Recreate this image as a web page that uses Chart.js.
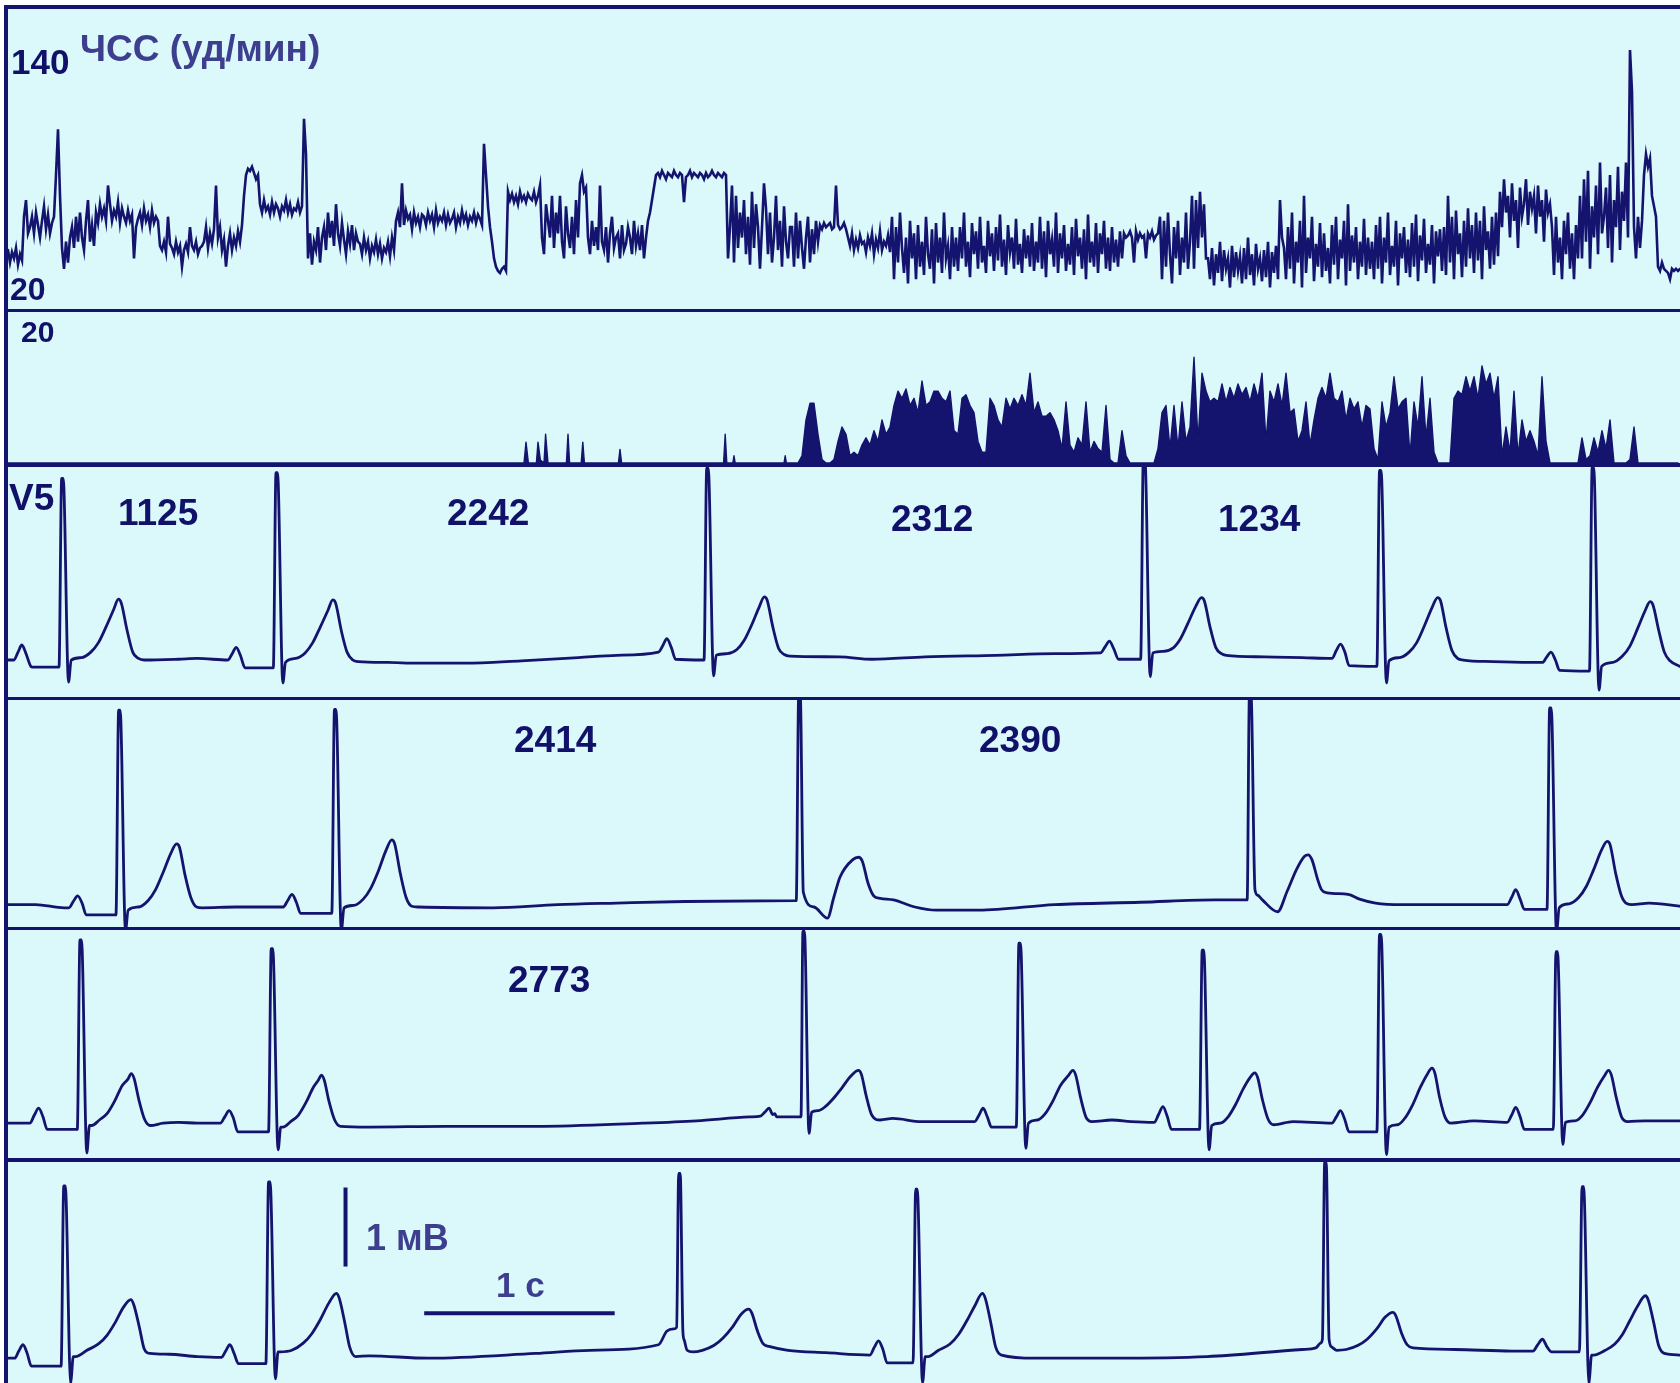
<!DOCTYPE html>
<html><head><meta charset="utf-8">
<script src="https://cdn.jsdelivr.net/npm/chart.js@4.4.1/dist/chart.umd.min.js"></script>
<style>
html,body{margin:0;padding:0;background:#fff;}
#stage{position:relative;width:1680px;height:1383px;overflow:hidden;background:#fff;}
#bg{position:absolute;left:7px;top:8px;width:1673px;height:1375px;background:#dbf8fa;}
.cv{position:absolute;}
.ln{position:absolute;background:#14146e;z-index:5;}
.lbl{position:absolute;font-family:"Liberation Sans",Arial,Helvetica,sans-serif;font-weight:bold;line-height:1;white-space:nowrap;z-index:6;}
</style></head>
<body><div id="stage"><div id="bg"></div></div>
<script>
// ---------- DATA ----------
// Heart-rate trend (bpm), one sample every step
const hrValues = [44,38,43,40,45,37,42,39, 60,68,52, 55,60,52,62,56,50,58,65,54,61,52,57,60, 80,102,70, 45,35,48,38,50,
 55,45,60,48,62,50,44,58,68,48,56,46, 62,57,66,60,64,58,75,66,58,63,60,67,57,64,
 60,57,63,58,61,40,55,59,62,56,64,58,61,55,63,57,60,58,
 46,44,48,43,60,47,45,42,48,43,46,36,44,47,43,55,46,44,48,42,45,46,
 48,55,45,52,47,54,75,50,55,44,49,36,46,52,44,50,46,53,48,56, 70,80,83,82,84,81,78,80,
 66,62,68,63,65,61,67,62,66,64,60,65,63,68,62,66,61,64,63,67,62,65, 107,90, 40,52,37,48,44,55,38,50,
 55,44,62,50,58,46,66,52,46,57,49,42,53,47,56,44,52,48, 47,42,50,44,48,40,46,43,49,42,47,40,45,43,48,41,50,44,
 58,62,55,76,56,63,59,61,54,62,57,60,55,61,
 60,56,62,58,61,55,63,57,60,58,62,56,61,57,59,62,55,60,57,63,58,61,56,60,58,62,57,61,59,56,
 95,80, 65,55, 48,40,36,34,33,35,36,34, 72,68,71,67,70,66,72,68,70,67,71,69,68,72,67,70,
 75,50,42,66,58,50,70,45,62,52, 70,48,40,65,52,45,60,42,68,50, 76,80,72,74,
 50,42,58,46,55,44,75,48,44,55,38,52,60,45,50,52,40,56,44,47,55,50,42,58,46,52,44,56,40,50, 58,62,68,74,
 80,81,79,82,80,78,81,80,79,82,80,79,81,80,67,79,80,82,79,81,80,79,81,80,78,81,79,80,82,80,79,81,80,79,81,80,
 40,55, 75,38,70,45,62,50,68,42,
 60,37,72,45,66,55,35,55,76,64,42,62,38,50,70,44,58,36,65,48,40,55,
 55,36,62,40,58,45,35,50,60,38,54,42,58,48, 56,54,57,55,56,57,54,55,75,56,54,55,57,54,
 50,46,52,44,49,45,51,47,48,43,50,46,52,42,49,45,53,44,48,46,51,43,
 60,30,55,38,62,45,33,50,28,58,40,52,30,56,36,48,32,60,42,35,54,28,57,38,50,33,62,40,46,30,55,36,
 50,34,55,40,62,36,48,31,57,42,53,35,60,38,46,33,58,41,52,34,
 55,39,61,36,49,32,56,43,50,35,59,37,47,33,54,40,51,36,57,34,
 48,38,60,35,53,31,58,42,49,36,62,33,52,40,56,34,47,37,55,32,
 59,41,50,35,54,30,61,38,48,36,57,33,52,42,58,35,50,34,55,38, 49,36,53,40,
 52,50,51,53,50,38,53,49,52,50,51,40,52,50,53,49,51,52, 60,30,58,36,62,42,28,55,40,58,32,50,38,62,35,48,
 70,35,68,45,72,50,66,40,
 40,30,45,27,42,33,48,29,44,35,40,26,46,31,43,34,41,28,45,30,50,32,42,27,47,35,40,29,44,31,48,26,43,33,46,30, 68,50,
 45,30,55,35,62,28,48,38,58,26,70,33,50,40,60,29,47,36,57,31,52,34,
 45,28,56,37,60,30,49,40,58,27,66,34,51,38,55,30,48,36,59,32,50,35,
 48,30,56,35,60,28,50,38,62,32,46,36,58,27,52,40,55,33,49,31,57,36,61,29,51,39,59,33,47,37,56,28,53,41,54,34,
 55,32,70,38,60,30,63,42,52,31,58,36,64,40,56,33,62,39,58,30,65,44,53,35,60,37,62,41,
 72,55,78,62,70,50,76,58,68,45,74,60,66,78,56,72,64,70,52,75,60,68,48,73,62,66,
 55,32,60,38,50,30,58,42,62,35,52,30,56,40,
 70,40,78,48,82,35,65,50,75,42,86,52,60,74,45,80,38,68,55,84,44,72,58,86,50,
 140,120, 55,40,60,45,58, 80,90,84,88, 70,65,60, 36,34,38, 35,34,33,30,35,34,35,34,35];

// Histogram: isolated early spikes [sample, value] and a dense run starting at histDenseStart
const histSparse = [0,0, 129.5,0, 130,2.9, 130.6,0, 132.6,0, 133,2.9, 133.6,0.4, 134.5,0, 134.9,4, 135.5,0,
 140.1,0, 140.5,4, 140.9,0, 143.8,0, 144.2,2.9, 144.6,0, 153.1,0, 153.5,1.9, 153.9,0,
 179.4,0, 179.8,4, 180.2,0, 181.7,0, 182,1, 182.3,0, 194.5,0, 194.8,1, 195.1,0];
const histDenseStart = 196;
const histDense = [0,0,0,1,6,8.3,8.3,4,0.5,0, 0,0.5,3,5,4,1,1.5,1,2.5,3.5, 2.5,4.5,3,6,4,5,8,10,9,10.3,
 8,9,7,11.4,8,8.5,10,10,9,8.5, 10,4.5,4,9,9.5,8,7,3,1.5,1.5, 9,8,6,5,9,7.5,9,8,9.5,8,
 12.5,7,8.5,6.5,6.5,7,6,4.5,2,8.5, 2.5,1.5,3.5,2.5,8.5,1.5,3,2,1.5,8, 0.5,0,0,4.5,1,0,0,0,0,0,
 0,0,2,7,8,2,8,2,8.5,3, 5,14.7,3,12.5,10,8.5,9,8.5,11,8.5, 10.5,9,11,9.5,10.5,8.5,11,9,12.5,3,
 10,8.5,11,8,12.5,7,7.5,3,4.5,8.5, 2.5,6,9,10.5,9,12.5,9,8.5,10,6, 9,7.5,8.5,5,8,7.5,2,0.5,8.5,5,
 7,12,7.5,8.5,9,1,8.5,5,12,3.5, 9,1.5,0,0,0,0,9,10,9.5,12, 10,12,9,13.5,11,12.5,9,12,1,5,
 1.5,10,1,6,3,4.5,3,1,12,3, 0,0,0,0,0,0,0,0,3.5,0.5, 1,3.5,1.5,4.5,2,6,0,0,0,0,
 0.5,5,0,0,0,0,0,0,0,0, 0,0,0];

// ECG strips, lead V5: [time s, amplitude mV] pairs
const ecgStripA = [0,0, 0.036,0, 0.058,0.1, 0.078,0.19, 0.1,0.08, 0.125,-0.08, 0.134,-0.09, 0.27,-0.09,
 0.273,-0.09, 0.287,2.3, 0.295,2.3, 0.323,-0.28, 0.337,0,
 0.39,0.03, 0.44,0.1, 0.48,0.22, 0.52,0.42, 0.56,0.64, 0.585,0.77, 0.6,0.72, 0.63,0.38, 0.66,0.1, 0.69,0.02, 0.72,0,
 0.9,0.01, 1.0,0.02, 1.16,0,
 1.182,0.08, 1.203,0.16, 1.225,0.06, 1.25,-0.1, 1.395,-0.1,
 1.398,-0.1, 1.412,2.37, 1.42,2.37, 1.448,-0.29, 1.462,-0.03,
 1.515,0.02, 1.565,0.09, 1.605,0.22, 1.645,0.42, 1.685,0.63, 1.71,0.76, 1.725,0.72, 1.755,0.37, 1.785,0.1, 1.815,0, 1.845,-0.02,
 2.0,-0.03, 2.16,-0.04, 2.4,-0.04, 2.7,-0.01, 3.0,0.03, 3.2,0.06, 3.42,0.1,
 3.442,0.18, 3.464,0.27, 3.487,0.16, 3.51,0.01, 3.655,0,
 3.659,0, 3.673,2.43, 3.681,2.43, 3.709,-0.2, 3.723,0.06,
 3.78,0.08, 3.83,0.13, 3.87,0.25, 3.91,0.45, 3.95,0.68, 3.975,0.8, 3.99,0.76, 4.02,0.42, 4.05,0.15, 4.08,0.07, 4.11,0.05,
 4.37,0.04, 4.54,0.01, 4.82,0.04, 5.19,0.06, 5.5,0.08, 5.74,0.09,
 5.765,0.17, 5.787,0.24, 5.81,0.14, 5.835,0.01, 5.948,0.01,
 5.951,0.01, 5.965,2.55, 5.973,2.55, 6.001,-0.21, 6.015,0.09,
 6.07,0.11, 6.12,0.15, 6.16,0.27, 6.2,0.47, 6.24,0.68, 6.27,0.79, 6.285,0.75, 6.315,0.42, 6.345,0.16, 6.375,0.08, 6.4,0.06, 6.6,0.04, 6.8,0.03, 6.955,0.02,
 6.978,0.12, 7.0,0.2, 7.023,0.1, 7.045,-0.07, 7.188,-0.08,
 7.191,-0.08, 7.205,2.4, 7.213,2.4, 7.241,-0.29, 7.255,-0.01,
 7.31,0.03, 7.36,0.1, 7.4,0.22, 7.44,0.43, 7.48,0.66, 7.51,0.79, 7.525,0.75, 7.555,0.4, 7.585,0.12, 7.615,0.02, 7.645,0, 7.8,-0.02, 8.0,-0.03, 8.06,-0.03,
 8.083,0.04, 8.105,0.1, 8.128,0, 8.15,-0.13, 8.303,-0.14,
 8.307,-0.14, 8.321,2.44, 8.329,2.44, 8.357,-0.38, 8.371,-0.08,
 8.43,-0.03, 8.48,0.05, 8.52,0.18, 8.56,0.4, 8.6,0.63, 8.625,0.74, 8.64,0.7, 8.67,0.38, 8.7,0.1, 8.73,-0.01, 8.78,-0.08];

const ecgStripB = [0,0.03, 0.15,0.03, 0.3,-0.01, 0.325,-0.01,
 0.348,0.07, 0.371,0.14, 0.394,0.05, 0.416,-0.1, 0.568,-0.1,
 0.572,-0.1, 0.586,2.49, 0.594,2.49, 0.622,-0.3, 0.636,-0.04,
 0.69,0, 0.74,0.08, 0.78,0.22, 0.82,0.44, 0.86,0.68, 0.89,0.8, 0.905,0.76, 0.935,0.4, 0.965,0.12, 0.995,0, 1.025,-0.01, 1.2,0, 1.45,0,
 1.473,0.08, 1.496,0.16, 1.519,0.06, 1.541,-0.08, 1.701,-0.08,
 1.705,-0.08, 1.719,2.5, 1.727,2.5, 1.755,-0.3, 1.769,-0.01,
 1.82,0.02, 1.87,0.1, 1.91,0.24, 1.95,0.46, 1.99,0.72, 2.02,0.85, 2.035,0.8, 2.065,0.42, 2.095,0.12, 2.125,0.01, 2.16,0,
 2.55,-0.01, 2.89,0.03, 3.2,0.05, 3.56,0.07, 4.14,0.08,
 4.143,0.08, 4.156,2.7, 4.164,2.7, 4.18,0.19, 4.236,0, 4.307,-0.14,
 4.34,0.12, 4.373,0.38, 4.44,0.6, 4.47,0.63, 4.49,0.58, 4.52,0.3, 4.55,0.14, 4.584,0.11, 4.654,0.09, 4.766,0, 4.879,-0.04, 5.1,-0.04, 5.5,0.03, 5.95,0.06, 6.34,0.09, 6.508,0.09,
 6.51,0.09, 6.522,2.7, 6.53,2.7, 6.551,0.22, 6.565,0.15, 6.59,0.09, 6.67,-0.06,
 6.72,0.2, 6.77,0.48, 6.81,0.64, 6.83,0.66, 6.85,0.6, 6.88,0.35, 6.9,0.22, 6.93,0.18, 7.04,0.16, 7.1,0.1, 7.184,0.05, 7.32,0.03, 7.875,0.03,
 7.898,0.12, 7.92,0.22, 7.943,0.1, 7.965,-0.03, 8.08,-0.03,
 8.084,-0.03, 8.098,2.52, 8.106,2.52, 8.134,-0.32, 8.148,-0.01,
 8.2,0.04, 8.25,0.12, 8.29,0.26, 8.33,0.48, 8.37,0.72, 8.4,0.83, 8.415,0.79, 8.445,0.42, 8.475,0.14, 8.505,0.04, 8.53,0.03, 8.62,0.05, 8.78,0.01];

const ecgStripC = [0,0, 0.12,0,
 0.143,0.1, 0.166,0.19, 0.189,0.08, 0.211,-0.08, 0.365,-0.08,
 0.369,-0.08, 0.383,2.33, 0.391,2.33, 0.419,-0.38, 0.433,-0.03,
 0.445,-0.03, 0.485,0.04, 0.525,0.12, 0.565,0.28, 0.605,0.48, 0.635,0.56, 0.652,0.63, 0.667,0.57, 0.692,0.3, 0.722,0.05, 0.752,-0.03, 0.82,0, 0.9,0.01, 1.0,0, 1.12,0,
 1.143,0.08, 1.166,0.16, 1.189,0.06, 1.211,-0.11, 1.369,-0.11,
 1.373,-0.11, 1.387,2.22, 1.395,2.22, 1.423,-0.34, 1.437,-0.05,
 1.449,-0.05, 1.489,0.02, 1.529,0.1, 1.569,0.26, 1.609,0.46, 1.635,0.55, 1.65,0.61, 1.665,0.55, 1.69,0.28, 1.72,0.04, 1.75,-0.04, 1.9,-0.05, 2.3,-0.04, 2.775,-0.04, 3.337,0, 3.62,0.03, 3.9,0.08, 3.955,0.09,
 3.978,0.14, 4.0,0.19, 4.02,0.11, 4.03,0.12, 4.04,0.08, 4.08,0.08, 4.165,0.08,
 4.168,0.08, 4.178,2.44, 4.186,2.44, 4.21,-0.13, 4.224,0.14,
 4.26,0.16, 4.3,0.22, 4.34,0.32, 4.38,0.44, 4.43,0.6, 4.47,0.67, 4.485,0.62, 4.51,0.35, 4.54,0.1, 4.584,0.04, 4.65,0.06, 4.8,0.02, 5.08,0.02,
 5.102,0.1, 5.124,0.19, 5.146,0.08, 5.168,-0.05, 5.294,-0.05,
 5.298,-0.05, 5.312,2.29, 5.32,2.29, 5.348,-0.32, 5.362,0,
 5.41,0.04, 5.45,0.12, 5.49,0.28, 5.53,0.48, 5.57,0.6, 5.595,0.67, 5.61,0.61, 5.635,0.33, 5.665,0.07, 5.695,0.02, 5.8,0.04, 5.9,0.02, 6.022,0.01,
 6.045,0.11, 6.068,0.21, 6.09,0.09, 6.113,-0.08, 6.256,-0.08,
 6.26,-0.08, 6.274,2.2, 6.282,2.2, 6.31,-0.34, 6.324,-0.03,
 6.37,0, 6.41,0.08, 6.45,0.24, 6.49,0.44, 6.525,0.58, 6.55,0.64, 6.565,0.58, 6.59,0.3, 6.62,0.05, 6.65,-0.02, 6.75,0.02, 6.955,0,
 6.978,0.08, 7.0,0.16, 7.022,0.05, 7.045,-0.11, 7.187,-0.11,
 7.191,-0.11, 7.205,2.4, 7.213,2.4, 7.241,-0.4, 7.255,-0.05,
 7.3,-0.02, 7.34,0.07, 7.38,0.24, 7.42,0.46, 7.455,0.62, 7.48,0.7, 7.495,0.64, 7.52,0.33, 7.55,0.07, 7.58,0, 7.7,0.03, 7.875,0.01,
 7.898,0.1, 7.92,0.2, 7.943,0.08, 7.965,-0.08, 8.113,-0.08,
 8.117,-0.08, 8.131,2.18, 8.139,2.18, 8.167,-0.27, 8.181,0.01,
 8.23,0.03, 8.27,0.1, 8.31,0.26, 8.35,0.46, 8.385,0.6, 8.407,0.67, 8.422,0.61, 8.447,0.33, 8.477,0.07, 8.507,0.02, 8.6,0.03, 8.78,0.03];

const ecgStripD = [0,-0.04, 0.04,-0.04,
 0.062,0.05, 0.084,0.13, 0.106,0.02, 0.128,-0.14, 0.28,-0.14,
 0.284,-0.14, 0.298,2.14, 0.306,2.14, 0.334,-0.36, 0.348,-0.02,
 0.36,-0.02, 0.42,0.06, 0.48,0.14, 0.525,0.25, 0.57,0.42, 0.61,0.6, 0.65,0.7, 0.665,0.64, 0.695,0.35, 0.72,0.08, 0.75,0.02, 0.85,0.01, 1.0,-0.02, 1.125,-0.03,
 1.148,0.05, 1.17,0.13, 1.192,0.02, 1.215,-0.11, 1.355,-0.11,
 1.359,-0.11, 1.373,2.19, 1.381,2.19, 1.409,-0.3, 1.423,0.04,
 1.435,0.04, 1.495,0.06, 1.555,0.15, 1.6,0.27, 1.645,0.45, 1.69,0.66, 1.729,0.78, 1.744,0.72, 1.774,0.4, 1.799,0.1, 1.83,-0.02, 1.9,-0.01, 2.21,-0.04, 2.775,0.02, 3.06,0.06, 3.42,0.13,
 3.463,0.3, 3.5,0.33, 3.515,0.35, 3.526,2.3, 3.534,2.3, 3.548,0.3, 3.555,0.19, 3.57,0.06, 3.6,0.04,
 3.65,0.06, 3.71,0.12, 3.76,0.22, 3.81,0.36, 3.855,0.52, 3.894,0.58, 3.91,0.53, 3.94,0.3, 3.97,0.14, 4.0,0.11, 4.1,0.06, 4.3,0.03, 4.53,0,
 4.553,0.1, 4.575,0.18, 4.598,0.07, 4.62,-0.1, 4.752,-0.1,
 4.756,-0.1, 4.77,2.1, 4.778,2.1, 4.806,-0.35, 4.82,-0.02,
 4.835,-0.02, 4.89,0.06, 4.95,0.14, 4.995,0.26, 5.04,0.44, 5.08,0.62, 5.12,0.78, 5.135,0.72, 5.165,0.4, 5.19,0.1, 5.22,0, 5.4,-0.04, 5.8,-0.04, 6.3,-0.02, 6.8,0.07, 6.87,0.09,
 6.895,0.15, 6.905,0.2, 6.917,2.44, 6.925,2.44, 6.94,0.2, 6.955,0.1, 6.98,0.06,
 7.03,0.07, 7.09,0.12, 7.14,0.2, 7.19,0.33, 7.235,0.48, 7.275,0.54, 7.29,0.5, 7.32,0.28, 7.35,0.13, 7.38,0.09, 7.6,0.07, 7.9,0.05, 8.01,0.05,
 8.035,0.13, 8.06,0.2, 8.085,0.1, 8.108,0.04, 8.25,0.04,
 8.254,0.04, 8.268,2.13, 8.276,2.13, 8.304,-0.36, 8.318,0,
 8.33,0, 8.39,0.06, 8.44,0.14, 8.48,0.26, 8.52,0.44, 8.56,0.62, 8.6,0.75, 8.615,0.7, 8.645,0.4, 8.67,0.12, 8.7,0.02, 8.78,0];

// calibration marks: 1 mV and 1 s
const calMv = [1.777,1.12, 1.777,2.12];
const calSec = [2.19,0.53, 3.19,0.53];

// texts
const hrTitle = 'ЧСС (уд/мин)';
const hrTicks = ['140','20'];
const histTick = '20';
const leadName = 'V5';
const rrLabelsA = ['1125','2242','2312','1234'];
const rrLabelsB = ['2414','2390'];
const rrLabelsC = ['2773'];
const calLabels = ['1 мВ','1 с'];

// ---------- LAYOUT ----------
const NAVY = '#14146e', TXT = '#11116a', TXT2 = '#3e3e8e';
const stage = document.getElementById('stage');
function box(cls, x, y, w, h){const d=document.createElement('div');d.className=cls;Object.assign(d.style,{left:x+'px',top:y+'px',width:w+'px',height:h+'px'});stage.appendChild(d);return d;}
box('ln',4,5,1676,4); box('ln',4,5,4,1378);
[[309,3],[463,4],[697,3],[927,3],[1158,4]].forEach(([y,h])=>box('ln',4,y,1676,h));

function canvasAt(id,x,y,w,h){const c=document.createElement('canvas');c.id=id;c.className='cv';c.width=w;c.height=h;c.style.left=x+'px';c.style.top=y+'px';c.style.width=w+'px';c.style.height=h+'px';stage.appendChild(c);return c;}
function pairs(f){const o=[];for(let i=0;i<f.length;i+=2)o.push({x:f[i],y:f[i+1]});return o;}
function mk(c, datasets, xmin, xmax, ymin, ymax){
  return new Chart(c,{type:'line',data:{datasets},options:{
    responsive:false,maintainAspectRatio:false,animation:false,events:[],devicePixelRatio:1,
    layout:{padding:0},
    plugins:{legend:{display:false},tooltip:{enabled:false},title:{display:false}},
    scales:{x:{type:'linear',min:xmin,max:xmax,display:false},y:{type:'linear',min:ymin,max:ymax,display:false}},
    elements:{point:{radius:0},line:{tension:0,borderJoinStyle:'round',borderCapStyle:'round'}}
  }});
}
const W = 1672, X0 = 8;
// HR panel (2 px per sample)
mk(canvasAt('hr',X0,9,W,300),[{data:hrValues.map((v,i)=>({x:i,y:v})),borderColor:NAVY,borderWidth:2.6,borderJoinStyle:'miter',fill:false}],
   0, 836, 15.7, 159.7);
// histogram (4 px per sample)
const histPts = pairs(histSparse).concat(histDense.map((v,i)=>({x:histDenseStart+i,y:v})));
mk(canvasAt('hist',X0,312,W,151),[{data:histPts,borderColor:NAVY,backgroundColor:NAVY,borderWidth:1.4,fill:'origin'}],
   0.5, 418.5, 0, 21);
// ECG strips
const tMin = 1/190.5, tMax = tMin + W/190.5;
const ecgDs = arr => ({data:pairs(arr),borderColor:NAVY,borderWidth:2.8,fill:false,cubicInterpolationMode:'monotone'});
mk(canvasAt('ea',X0,467,W,230),[ecgDs(ecgStripA)], tMin, tMax, -0.468, 2.443);
mk(canvasAt('eb',X0,700,W,227),[ecgDs(ecgStripB)], tMin, tMax, -0.253, 2.62);
mk(canvasAt('ec',X0,930,W,228),[ecgDs(ecgStripC)], tMin, tMax, -0.443, 2.456);
mk(canvasAt('ed',X0,1162,W,221),[ecgDs(ecgStripD),
  {data:pairs(calMv),borderColor:NAVY,borderWidth:4,borderCapStyle:'butt',fill:false},
  {data:pairs(calSec),borderColor:NAVY,borderWidth:4,borderCapStyle:'butt',fill:false}], tMin, tMax, -0.354, 2.443);

// text labels: [text, left, capTop, size, color]
const labelPos = [
 [hrTicks[0],11,49,35,TXT],[hrTitle,80,35,37,TXT2],[hrTicks[1],10,277,32,TXT],[histTick,21,321,30,TXT],
 [leadName,9,484,37,TXT],
 [rrLabelsA[0],118,499,37,TXT],[rrLabelsA[1],447,499,37,TXT],[rrLabelsA[2],891,505,37,TXT],[rrLabelsA[3],1218,505,37,TXT],
 [rrLabelsB[0],514,726,37,TXT],[rrLabelsB[1],979,726,37,TXT],
 [rrLabelsC[0],508,966,37,TXT],
 [calLabels[0],366,1225,36,TXT2],[calLabels[1],496,1272,35,TXT2]
];
labelPos.forEach(([t,x,cap,s,c])=>{const d=document.createElement('div');d.className='lbl';d.textContent=t;
  Object.assign(d.style,{left:x+'px',top:(cap-0.13*s)+'px',fontSize:s+'px',color:c});stage.appendChild(d);});
</script>
</body></html>
